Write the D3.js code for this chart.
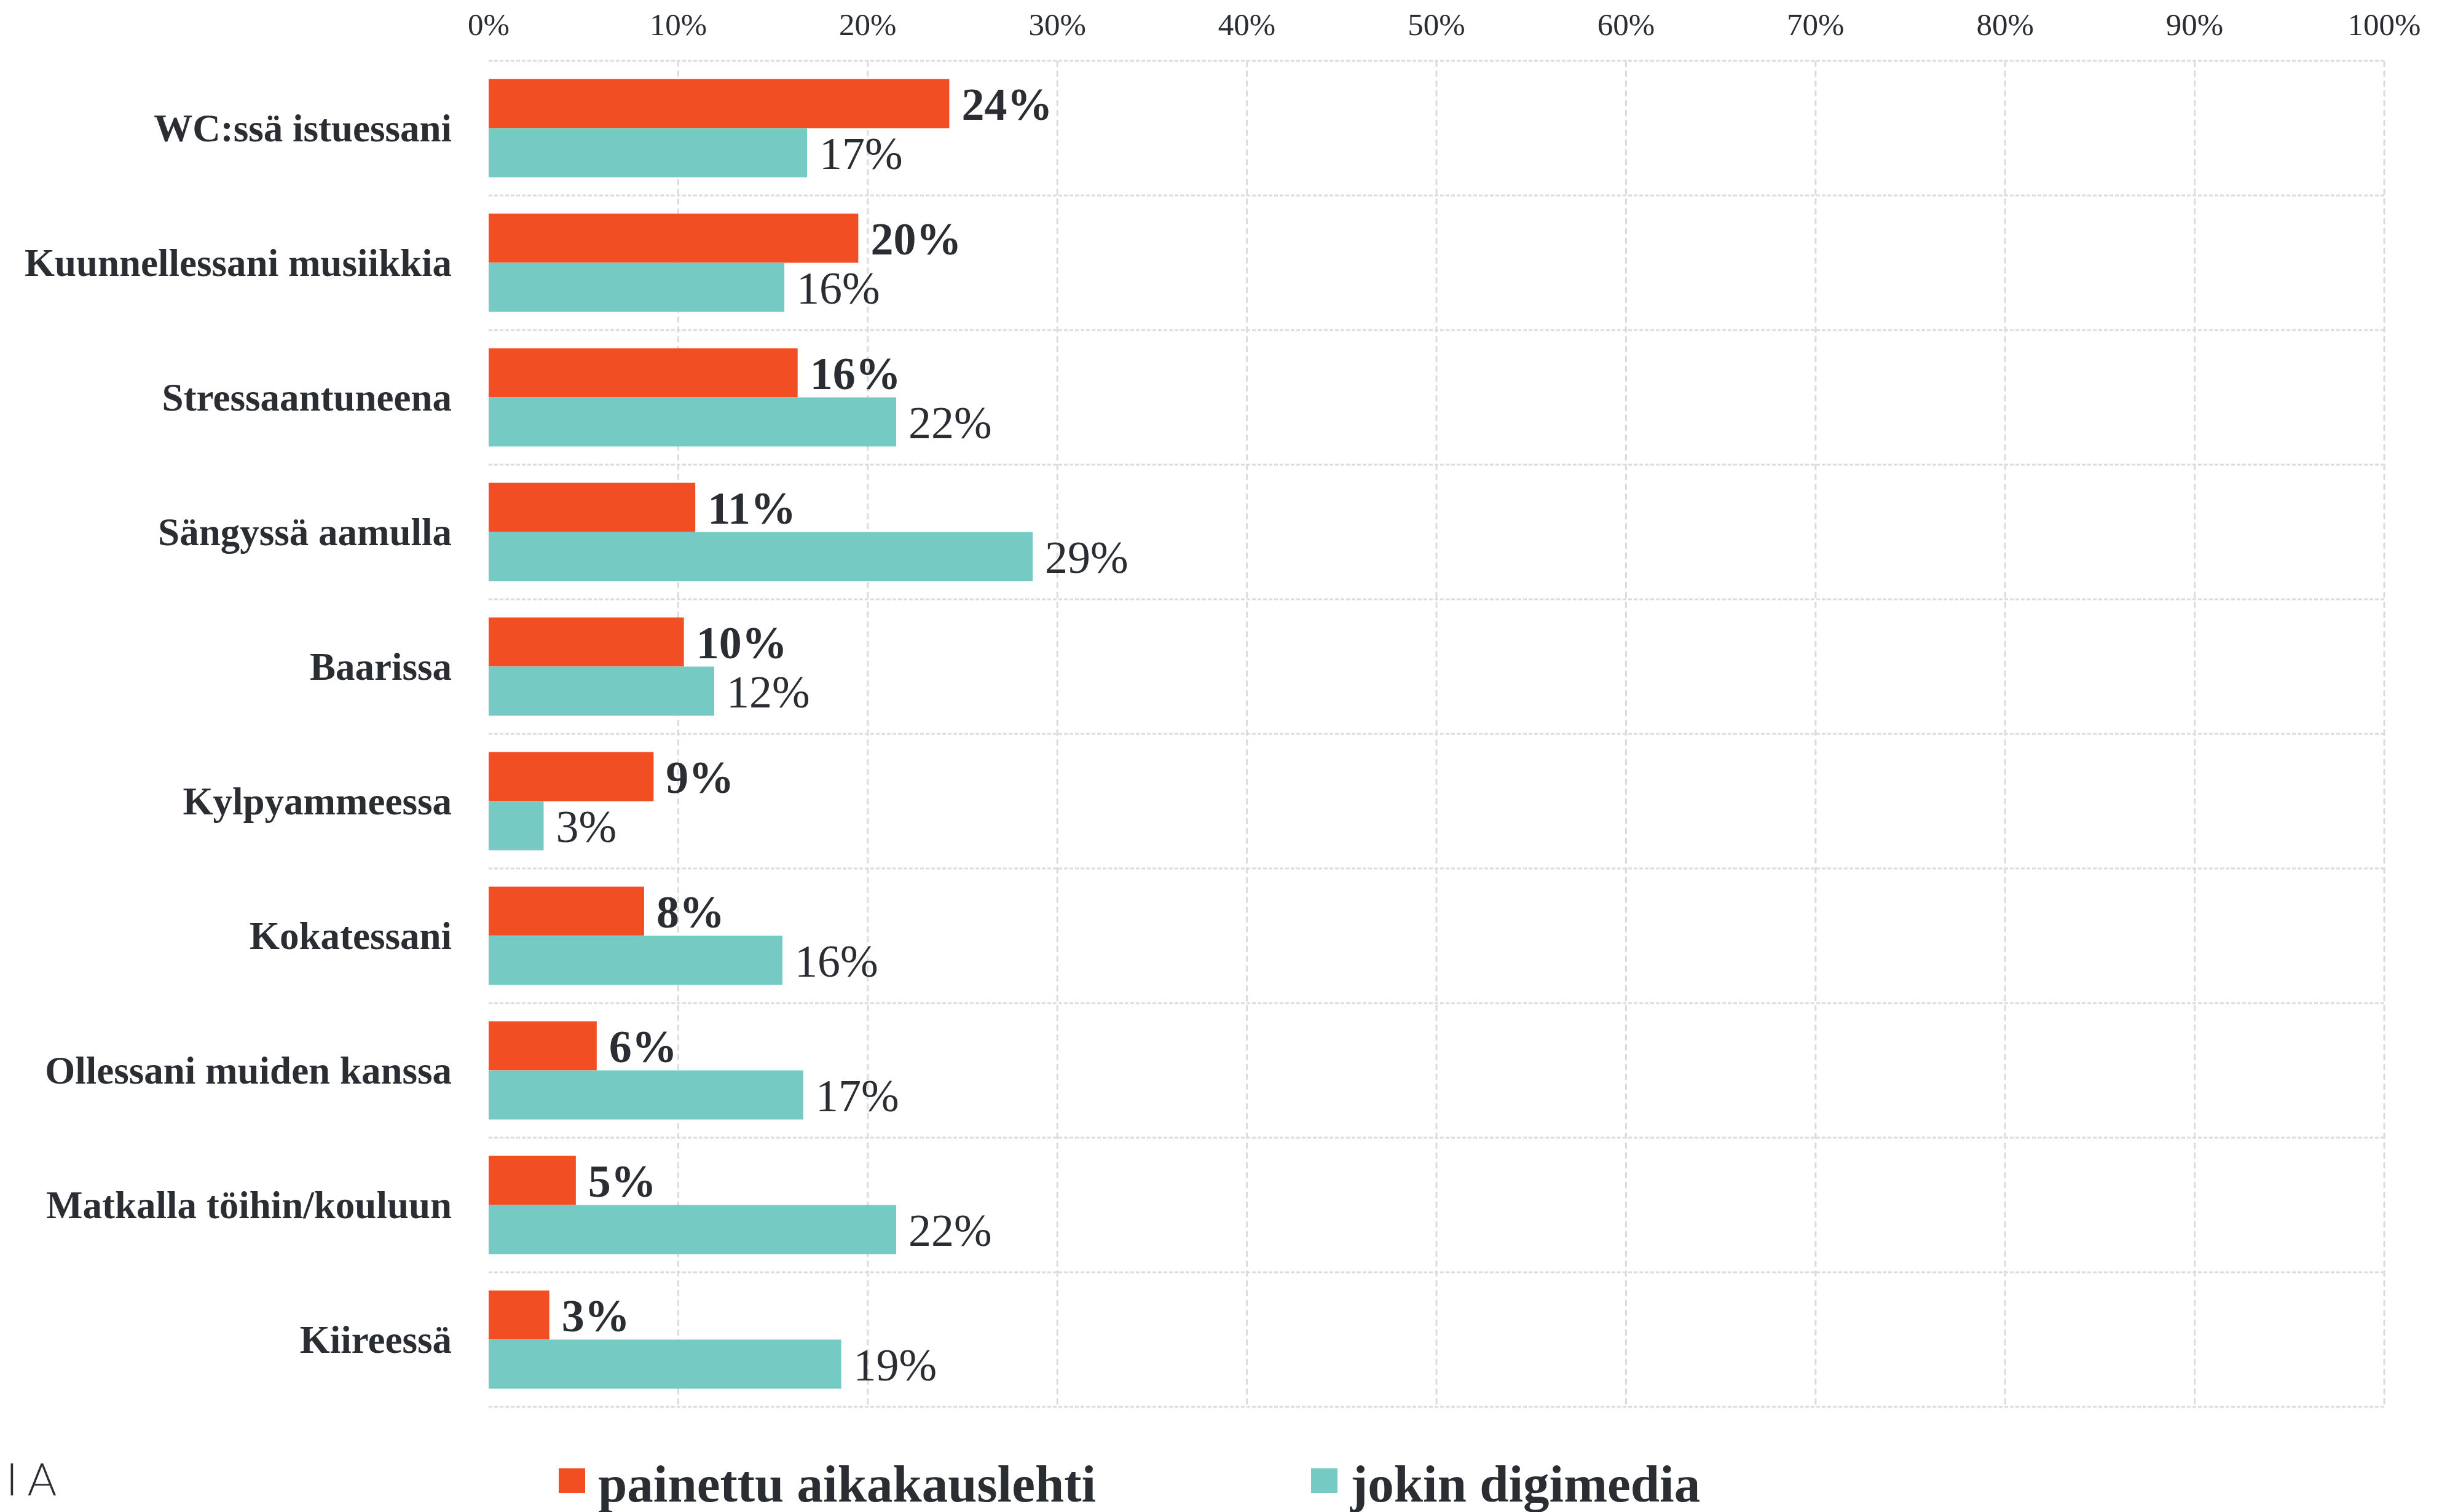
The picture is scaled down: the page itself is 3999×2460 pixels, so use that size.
<!DOCTYPE html>
<html>
<head>
<meta charset="utf-8">
<script src="https://cdn.jsdelivr.net/npm/d3@7"></script>
<style>
  body { margin: 0; background: #fff; }
  svg text { fill: #2a2d32; }
</style>
</head>
<body>
<svg id="chart" width="3999" height="2460"></svg>
<script>
let categories = ["WC:ssä istuessani", "Kuunnellessani musiikkia", "Stressaantuneena",
  "Sängyssä aamulla", "Baarissa", "Kylpyammeessa", "Kokatessani",
  "Ollessani muiden kanssa", "Matkalla töihin/kouluun", "Kiireessä"];
let seriesNames = ["painettu aikakauslehti", "jokin digimedia"];
let printValues = [24.3, 19.5, 16.3, 10.9, 10.3, 8.7, 8.2, 5.7, 4.6, 3.2];
let digitalValues = [16.8, 15.6, 21.5, 28.7, 11.9, 2.9, 15.5, 16.6, 21.5, 18.6];
let tickValues = [0, 10, 20, 30, 40, 50, 60, 70, 80, 90, 100];

let colors = ["#f24e23", "#75cbc3"];
let gridColor = "#dcdcdc";
let font_family = "'Liberation Serif', 'Times New Roman', serif";

let plotLeft = 795, plotRight = 3879, plotTop = 99, plotBottom = 2289;

let svg = d3.select("#chart");

let x = d3.scaleLinear().domain([0, 100]).range([plotLeft, plotRight]);
let y = d3.scaleBand().domain(categories).range([plotTop, plotBottom]);
let ySub = d3.scaleBand().domain([0, 1]).range([0, y.bandwidth()]).paddingOuter(0.37);

let rows = categories.map((c, i) => ({name: c, vals: [printValues[i], digitalValues[i]]}));

// grid
let grid = svg.append("g").attr("class", "grid");
grid.selectAll(".vline")
  .data(tickValues.filter(d => d > 0))
  .enter().append("line")
  .attr("x1", d => x(d)).attr("x2", d => x(d))
  .attr("y1", plotTop).attr("y2", plotBottom)
  .attr("stroke", gridColor).attr("stroke-width", 3)
  .attr("stroke-dasharray", "10,6");

grid.selectAll(".hline")
  .data(categories.map(c => y(c)).concat([plotBottom]))
  .enter().append("line")
  .attr("x1", plotLeft).attr("x2", plotRight)
  .attr("y1", d => d).attr("y2", d => d)
  .attr("stroke", gridColor).attr("stroke-width", 3)
  .attr("stroke-dasharray", "6,3");

// top axis labels
svg.append("g")
  .selectAll("text")
  .data(tickValues)
  .enter().append("text")
  .attr("x", d => x(d))
  .attr("y", 57)
  .attr("text-anchor", "middle")
  .style("font-family", font_family)
  .style("font-size", "51px")
  .text(d => d + "%");

// bars
let g = svg.selectAll(".row")
  .data(rows)
  .enter().append("g")
  .attr("class", "row")
  .attr("transform", d => `translate(0, ${y(d.name)})`);

g.append("text")
  .attr("x", 735)
  .attr("y", y.bandwidth() / 2)
  .attr("dy", "0.34em")
  .attr("text-anchor", "end")
  .style("font-family", font_family)
  .style("font-weight", "bold")
  .style("font-size", "63px")
  .text(d => d.name);

g.selectAll("rect")
  .data(d => d.vals)
  .enter().append("rect")
  .attr("x", x(0))
  .attr("y", (d, i) => ySub(i))
  .attr("width", d => x(d) - x(0))
  .attr("height", ySub.bandwidth())
  .attr("fill", (d, i) => colors[i]);

g.selectAll(".val")
  .data(d => d.vals)
  .enter().append("text")
  .attr("class", "val")
  .attr("x", d => x(d) + 20)
  .attr("y", (d, i) => ySub(i) + ySub.bandwidth() / 2)
  .attr("dy", "0.36em")
  .style("font-family", font_family)
  .style("font-weight", (d, i) => i == 0 ? "bold" : "normal")
  .style("font-size", "74px")
  .text(d => Math.round(d) + "%");

// legend
let legendX = [909, 2133];
let legend = svg.selectAll(".legend")
  .data(seriesNames)
  .enter().append("g")
  .attr("class", "legend")
  .attr("transform", (d, i) => `translate(${legendX[i]}, 2389)`);

legend.append("rect")
  .attr("width", 43)
  .attr("height", 40)
  .attr("fill", (d, i) => colors[i]);

legend.append("text")
  .attr("x", 64)
  .attr("y", 54)
  .style("font-family", font_family)
  .style("font-weight", "bold")
  .style("font-size", "85px")
  .text(d => d);

// logo
svg.append("text")
  .attr("x", 10)
  .attr("y", 2433)
  .style("font-family", "Lato, 'Open Sans', sans-serif")
  .style("font-weight", "300")
  .style("font-size", "72px")
  .style("letter-spacing", "16px")
  .text("IA");
</script>
</body>
</html>
